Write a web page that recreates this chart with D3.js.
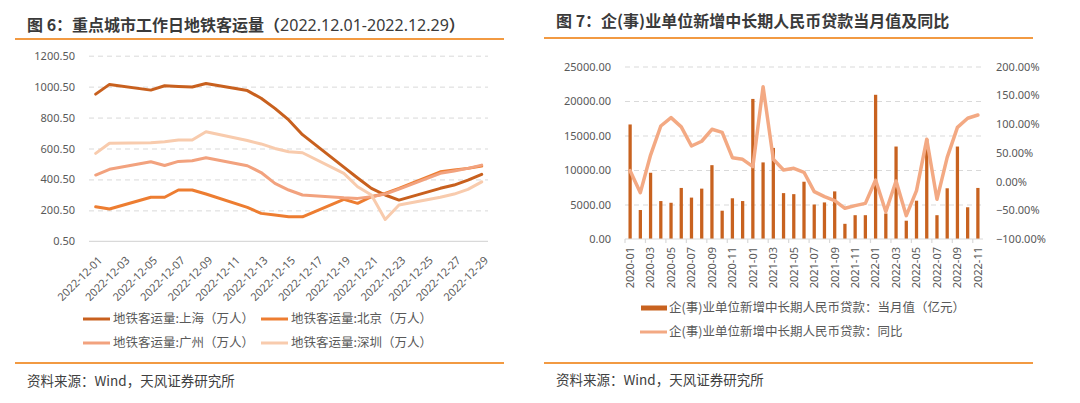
<!DOCTYPE html>
<html>
<head>
<meta charset="utf-8">
<script src="https://cdn.jsdelivr.net/npm/d3@7"></script>
<style>
  body { margin: 0; background: #fff; }
  svg text { font-family: "Noto Sans", "Noto Sans CJK SC", sans-serif; }
  .cjk { font-family: "Noto Sans CJK SC", sans-serif; }
</style>
</head>
<body>
<div id="chart"></div>
<script>
// Figure 6: metro ridership on working days (10k people)
const workDays = ["2022-12-01","2022-12-02","2022-12-05","2022-12-06","2022-12-07","2022-12-08","2022-12-09",
  "2022-12-12","2022-12-13","2022-12-14","2022-12-15","2022-12-16","2022-12-19","2022-12-20","2022-12-21",
  "2022-12-22","2022-12-23","2022-12-26","2022-12-27","2022-12-28","2022-12-29"];
const shanghai  = [952,1015,978,1006,1002,998,1021,975,925,860,785,690,480,410,343,300,267,343,364,396,433];
const beijing   = [224,209,285,285,332,332,306,220,181,170,159,159,272,246,289,310,343,450,461,472,487];
const guangzhou = [429,466,515,491,517,521,541,489,445,375,332,300,282,278,289,306,338,440,455,472,493];
const shenzhen  = [569,634,638,644,655,655,709,652,630,601,579,573,440,353,300,142,235,285,306,336,385];
const cityNames = ["地铁客运量:上海（万人）","地铁客运量:北京（万人）","地铁客运量:广州（万人）","地铁客运量:深圳（万人）"];
const leftTicks = [0.5,200.5,400.5,600.5,800.5,1000.5,1200.5];

// Figure 7: new mid/long-term RMB loans to enterprises
const months = ["2020-01","2020-02","2020-03","2020-04","2020-05","2020-06","2020-07","2020-08","2020-09","2020-10","2020-11","2020-12",
  "2021-01","2021-02","2021-03","2021-04","2021-05","2021-06","2021-07","2021-08","2021-09","2021-10","2021-11","2021-12",
  "2022-01","2022-02","2022-03","2022-04","2022-05","2022-06","2022-07","2022-08","2022-09","2022-10","2022-11"];
const loans = [16600,4200,9600,5500,5250,7400,6000,7300,10700,4100,5900,5500,
  20300,11100,13200,6650,6500,8300,5000,5300,6900,2200,3450,3450,
  20900,3700,13400,2650,5550,14500,3450,7350,13400,4600,7400];
const yoy = [18.8,-19.4,46,96.5,111,95,61.7,70,90.8,85.5,41.4,38.6,
  25.8,164.9,38.6,20,23,16,-17.7,-26.4,-33.4,-46.6,-42,-38,
  2.6,-52.5,0.9,-59.4,-16,73.4,-31,42,94.2,110,115.6];
const loanTicks = [0,5000,10000,15000,20000,25000];
const yoyTicks = [-100,-50,0,50,100,150,200];
const loanNames = ["企(事)业单位新增中长期人民币贷款：当月值（亿元）","企(事)业单位新增中长期人民币贷款：同比"];

const ruleColor = "#F29A42", gridColor = "#D9D9D9", labelColor = "#595959";

const svg = d3.select("#chart").append("svg")
    .attr("width", 1080).attr("height", 403);

// ---------- titles, rules, sources ----------
const t6 = svg.append("text").attr("class", "cjk").attr("x", 27).attr("y", 31)
    .attr("font-size", 16).attr("font-weight", "bold").attr("fill", "#3a3a3a");
t6.append("tspan").text("图 6：重点城市工作日地铁客运量（");
t6.append("tspan").attr("font-weight", "normal").attr("font-family", "Noto Sans").text("2022.12.01-2022.12.29");
t6.append("tspan").text("）");
svg.append("text").attr("class", "cjk").attr("x", 556).attr("y", 27)
    .attr("font-size", 16).attr("font-weight", "bold").attr("fill", "#3a3a3a")
    .text("图 7：企(事)业单位新增中长期人民币贷款当月值及同比");

[[15, 504, 39], [544, 1033, 38], [15, 504, 363], [544, 1033, 363]].forEach(r => {
    svg.append("line").attr("x1", r[0]).attr("x2", r[1]).attr("y1", r[2]).attr("y2", r[2])
        .attr("stroke", ruleColor).attr("stroke-width", 2);
});
[[27, 386], [556, 385]].forEach(p => {
    svg.append("text").attr("class", "cjk").attr("x", p[0]).attr("y", p[1])
        .attr("font-size", 13.5).attr("fill", "#404040").text("资料来源：Wind，天风证券研究所");
});

// ---------- left chart ----------
const L = { x0: 89, x1: 488, top: 55.7, bottom: 241.3 };
const parse = d3.timeParse("%Y-%m-%d");
const xL = d3.scaleTime()
    .domain([parse("2022-12-01"), parse("2022-12-29")])
    .range([95.7, 481.7]);
const yL = d3.scaleLinear().domain([0.5, 1200.5]).range([L.bottom, L.top]);

const gridL = svg.append("g").attr("transform", `translate(${L.x0},0)`)
    .call(d3.axisLeft(yL).tickValues(leftTicks.slice(1)).tickSize(-(L.x1 - L.x0)).tickFormat(""));
gridL.select(".domain").remove();
gridL.selectAll("line").attr("stroke", gridColor).attr("stroke-dasharray", "5,4");

svg.append("line").attr("x1", L.x0).attr("x2", L.x1).attr("y1", L.bottom).attr("y2", L.bottom)
    .attr("stroke", gridColor).attr("stroke-width", 1.2);

const yAxL = svg.append("g").attr("transform", "translate(75,0)")
    .call(d3.axisLeft(yL).tickValues(leftTicks).tickSize(0).tickPadding(0).tickFormat(d3.format(".2f")));
yAxL.select(".domain").remove();
yAxL.selectAll("text").attr("font-size", 11).attr("fill", labelColor).attr("font-family", "Noto Sans");

const labelDays = d3.range(1, 30, 2).map(d => new Date(2022, 11, d));
const xAxL = svg.append("g").attr("transform", `translate(0,${L.bottom})`)
    .call(d3.axisBottom(xL).tickValues(labelDays).tickSize(0).tickFormat(d3.timeFormat("%Y-%m-%d")));
xAxL.select(".domain").remove();
xAxL.selectAll("text")
    .attr("font-size", 11).attr("fill", labelColor).attr("font-family", "Noto Sans")
    .attr("text-anchor", "end").attr("x", 0).attr("y", 0).attr("dy", "0.35em")
    .attr("transform", "translate(4,17) rotate(-45)");

const cityColors = ["#C8601E", "#ED7D31", "#F2A27E", "#F8CBAD"];
const citySeries = [shanghai, beijing, guangzhou, shenzhen];
const lineL = d3.line().x((d, i) => xL(parse(workDays[i]))).y(d => yL(d));
citySeries.forEach((s, k) => {
    svg.append("path").datum(s).attr("d", lineL)
        .attr("fill", "none").attr("stroke", cityColors[k]).attr("stroke-width", 3)
        .attr("stroke-linejoin", "round").attr("stroke-linecap", "round");
});

// legend
cityNames.forEach((name, k) => {
    const lx = k % 2 === 0 ? 83 : 261;
    const ly = k < 2 ? 319 : 343;
    svg.append("line").attr("x1", lx).attr("x2", lx + 27).attr("y1", ly).attr("y2", ly)
        .attr("stroke", cityColors[k]).attr("stroke-width", 3);
    svg.append("text").attr("class", "cjk").attr("x", lx + 30).attr("y", ly).attr("dy", "0.35em")
        .attr("font-size", 12.5).attr("fill", labelColor).text(name);
});

// ---------- right chart ----------
const R = { x0: 625, x1: 983, top: 66.5, bottom: 239 };
const xR = d3.scaleBand().domain(months).range([R.x0, R.x1]).padding(0);
const yR1 = d3.scaleLinear().domain([0, 25000]).range([R.bottom, R.top]);
const yR2 = d3.scaleLinear().domain([-100, 200]).range([R.bottom, R.top]);

const gridR = svg.append("g").attr("transform", `translate(${R.x0},0)`)
    .call(d3.axisLeft(yR1).tickValues(loanTicks.slice(1)).tickSize(-(R.x1 - R.x0)).tickFormat(""));
gridR.select(".domain").remove();
gridR.selectAll("line").attr("stroke", gridColor).attr("stroke-dasharray", "5,4");

const yAxR1 = svg.append("g").attr("transform", "translate(611,0)")
    .call(d3.axisLeft(yR1).tickValues(loanTicks).tickSize(0).tickPadding(0).tickFormat(d3.format(".2f")));
yAxR1.select(".domain").remove();
yAxR1.selectAll("text").attr("font-size", 11).attr("fill", labelColor).attr("font-family", "Noto Sans");

const yAxR2 = svg.append("g").attr("transform", "translate(996,0)")
    .call(d3.axisRight(yR2).tickValues(yoyTicks).tickSize(0).tickPadding(0).tickFormat(d => d3.format(".2f")(d) + "%"));
yAxR2.select(".domain").remove();
yAxR2.selectAll("text").attr("font-size", 11).attr("fill", labelColor).attr("font-family", "Noto Sans");

// bars
const bw = xR.bandwidth() * 0.32;
svg.append("g").selectAll("rect").data(loans).enter().append("rect")
    .attr("x", (d, i) => xR(months[i]) + xR.bandwidth() / 2 - bw / 2)
    .attr("width", bw)
    .attr("y", d => yR1(d))
    .attr("height", d => yR1(0) - yR1(d))
    .attr("fill", "#C8621F");

// baseline and ticks
svg.append("line").attr("x1", R.x0).attr("x2", R.x1).attr("y1", R.bottom).attr("y2", R.bottom)
    .attr("stroke", gridColor).attr("stroke-width", 1.2);
const evenMonths = months.filter((m, i) => i % 2 === 0);
svg.append("g").selectAll("line").data(evenMonths).enter().append("line")
    .attr("x1", d => xR(d)).attr("x2", d => xR(d))
    .attr("y1", R.bottom).attr("y2", R.bottom + 4)
    .attr("stroke", gridColor).attr("stroke-width", 1.2);

const xAxR = svg.append("g").attr("transform", `translate(0,${R.bottom})`)
    .call(d3.axisBottom(xR).tickValues(evenMonths).tickSize(0));
xAxR.select(".domain").remove();
xAxR.selectAll("text")
    .attr("font-size", 11).attr("fill", labelColor).attr("font-family", "Noto Sans")
    .attr("text-anchor", "end").attr("x", 0).attr("y", 0).attr("dy", "0.35em")
    .attr("transform", "translate(0,8) rotate(-90)");

// yoy line
const lineR = d3.line().x((d, i) => xR(months[i]) + xR.bandwidth() / 2).y(d => yR2(d));
svg.append("path").datum(yoy).attr("d", lineR)
    .attr("fill", "none").attr("stroke", "#F3A983").attr("stroke-width", 3.5)
    .attr("stroke-linejoin", "round").attr("stroke-linecap", "round");

// legend
svg.append("rect").attr("x", 641).attr("y", 305.5).attr("width", 26).attr("height", 5).attr("fill", "#C8621F");
svg.append("line").attr("x1", 640).attr("x2", 667).attr("y1", 332).attr("y2", 332)
    .attr("stroke", "#F3A983").attr("stroke-width", 3);
loanNames.forEach((name, k) => {
    svg.append("text").attr("class", "cjk").attr("x", 669).attr("y", k === 0 ? 308 : 332).attr("dy", "0.35em")
        .attr("font-size", 12.5).attr("fill", labelColor).text(name);
});
</script>
</body>
</html>
